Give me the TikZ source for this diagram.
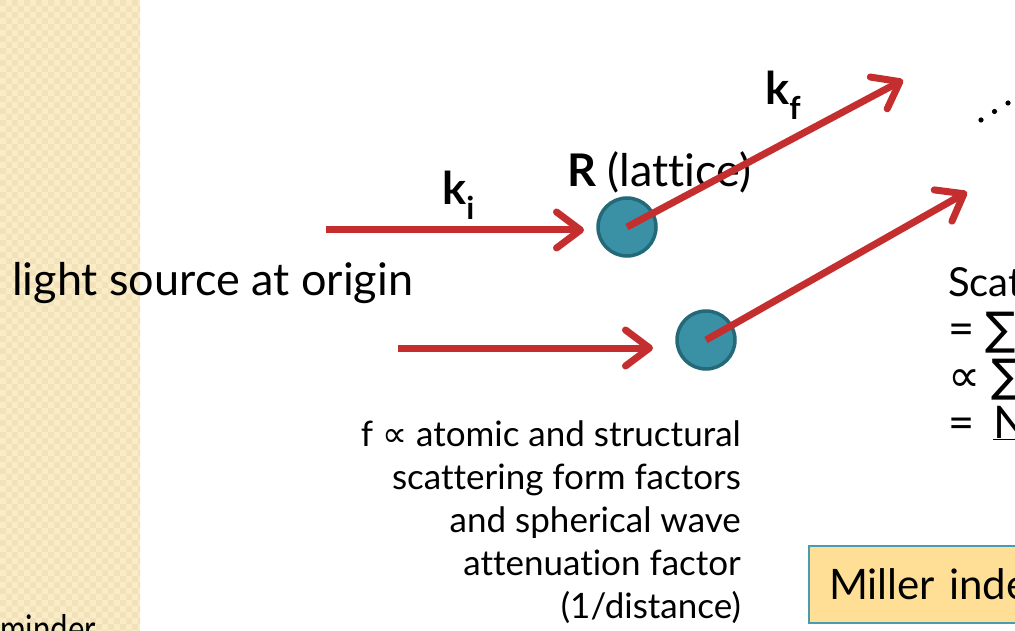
\documentclass[tikz,border=0pt]{standalone}
\usepackage{fontspec}
\setmainfont{Lato}[Ligatures={NoCommon}]
\newfontfamily\symf{DejaVu Sans}
\usetikzlibrary{arrows.meta}
\definecolor{arrred}{RGB}{196,46,46}
\definecolor{ballfill}{RGB}{58,145,165}
\definecolor{balledge}{RGB}{35,105,120}
\definecolor{stripA}{RGB}{250,236,198}
\definecolor{stripB}{RGB}{241,226,186}
\definecolor{boxfill}{RGB}{255,223,150}
\definecolor{boxedge}{RGB}{75,155,175}
\tikzset{
  ball/.style={circle, fill=ballfill, draw=balledge, line width=3.5pt, minimum size=58pt, inner sep=0pt},
  ray/.style={draw=arrred, line width=7pt, -{Straight Barb[length=24pt,width=36pt,round]}},
  big/.style={font=\fontsize{45}{54}\selectfont, inner sep=0pt},
  small/.style={font=\fontsize{35}{43}\selectfont, inner sep=0pt, align=right},
  millerbox/.style={draw=boxedge, fill=boxfill, line width=2pt, minimum height=77pt, text width=400pt, inner xsep=20pt, font=\fontsize{42}{50}\selectfont}
}
\begin{document}
\begin{tikzpicture}[x=1pt,y=-1pt]
\useasboundingbox (0,0) rectangle (1015,631);
\clip (0,0) rectangle (1015,631);
% textured strip
\begin{scope}
\clip (0,0) rectangle (140,631);
\fill[stripA] (0,0) rectangle (140,631);
\foreach \i in {0,...,11}{
  \foreach \j in {0,...,52}{
    \fill[stripB] (\i*12,\j*12) rectangle ++(6,6);
    \fill[stripB] (\i*12+6,\j*12+6) rectangle ++(6,6);
  }
}
\end{scope}
% texts
\node[big, anchor=base west] (src) at (12,295) {light source at origin};
\node[big, anchor=base east, font=\fontsize{38}{46}\selectfont] (rem) at (96,642) {\scalebox{0.82}[1]{Reminder}};
\node[big, anchor=base west] (kil) at (442,205) {\textbf{k}\textsubscript{\textbf{i}}};
\node[big, anchor=base west] (kfl) at (765,105) {\textbf{k}\textsubscript{\textbf{f}}};
\node[big, anchor=base west] (Rl) at (567,187) {\textbf{R} (lattice)};
\node[small, anchor=base east] (fdesc) at (741,618) {f {\symf ∝} atomic and structural\\ scattering form factors\\ and spherical wave\\ attenuation factor\\ (1/distance)};
\node[big, anchor=base west, font=\fontsize{40}{48}\selectfont] (s1) at (948,297) {Scattering};
\node[big, anchor=base west] (s2) at (948,344) {= {\symf ∑}};
\node[big, anchor=base west] (s3) at (948,391) {{\symf ∝} {\symf ∑}};
\node[big, anchor=base west] (s4) at (948,438) {=\, \underline{N}};
\node[millerbox, anchor=north west] (mb) at (808,545) {Miller indexes};
% balls
\node[ball] (b1) at (627,227) {};
\node[ball] (b2) at (706,340) {};
% arrows
\coordinate (kiS) at (326,230);
\coordinate (kiT) at (584,230);
\coordinate (a2S) at (398,348);
\coordinate (a2T) at (653,348);
\coordinate (kfT) at (903,80);
\coordinate (a3T) at (967,192);
\draw[ray] (kiS) -- (kiT);
\draw[ray] (a2S) -- (a2T);
\draw[ray] (b1.center) -- (kfT);
\draw[ray] (b2.center) -- (a3T);
% dots
\fill (981,120) circle (2.6);
\fill (994.5,111.5) circle (2.6);
\fill (1008,103) circle (2.6);
\end{tikzpicture}
\end{document}
